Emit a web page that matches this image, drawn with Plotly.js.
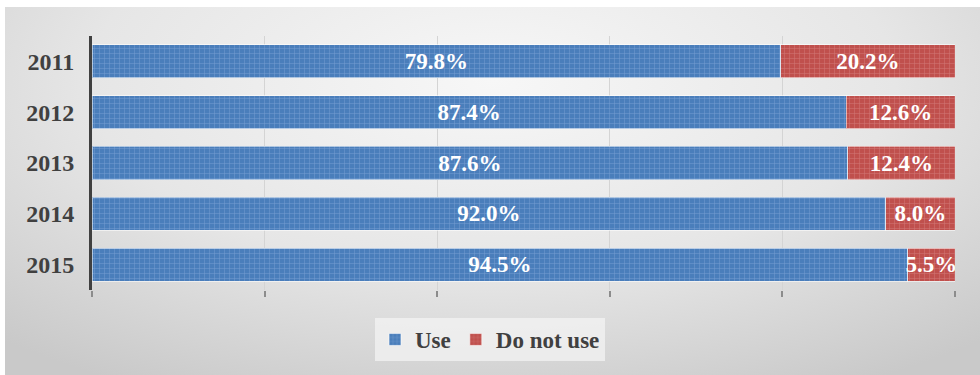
<!DOCTYPE html>
<html>
<head>
<meta charset="utf-8">
<script src="https://cdn.plot.ly/plotly-3.0.1.min.js"></script>
<style>
  html, body { margin: 0; padding: 0; background: #ffffff; }
  #bg {
    position: absolute; left: 5px; top: 7px; width: 975px; height: 368px;
    background: radial-gradient(ellipse 75% 95% at 50% 20%, #f7f7f7 0%, #e6e6e6 55%, #c9c9c9 100%);
  }
  #chart { position: absolute; left: 0; top: 0; width: 980px; height: 375px; }
</style>
</head>
<body>
<div id="bg"></div>
<div id="chart"></div>
<script>
const years = ['2011', '2012', '2013', '2014', '2015'];
const useValues = [79.8, 87.4, 87.6, 92.0, 94.5];
const notUseValues = [20.2, 12.6, 12.4, 8.0, 5.5];
const seriesNames = ['Use', 'Do not use'];
const xTickVals = [0, 20, 40, 60, 80, 100];

const serif = '"Liberation Serif", "Times New Roman", Times, serif';
const labelFont = { family: serif, size: 23, color: '#ffffff', weight: 'bold' };

function barTrace(name, vals, color, fg) {
  return {
    type: 'bar', orientation: 'h', name: name,
    y: years, x: vals,
    text: vals.map(v => v.toFixed(1) + '%'),
    textposition: 'inside', insidetextanchor: 'middle', constraintext: 'none',
    textfont: labelFont,
    marker: {
      color: color,
      line: { color: 'rgba(255,255,255,0.55)', width: 1 },
      pattern: { shape: '+', size: 5, solidity: 0.2, fillmode: 'replace', bgcolor: color, fgcolor: fg, fgopacity: 0.6 }
    },
    hoverinfo: 'skip'
  };
}

const data = [
  barTrace(seriesNames[0], useValues, '#4a7ebb', '#8fb0dc'),
  barTrace(seriesNames[1], notUseValues, '#c0504d', '#dc8e8c')
];

const layout = {
  width: 980, height: 375,
  paper_bgcolor: 'rgba(0,0,0,0)', plot_bgcolor: 'rgba(0,0,0,0)',
  margin: { l: 92, r: 25, t: 36, b: 85 },
  barmode: 'stack', bargap: 0.35,
  font: { family: serif, color: '#404040' },
  xaxis: {
    range: [0, 100], tickvals: xTickVals, showticklabels: false,
    showgrid: true, gridcolor: '#d4d4d4', gridwidth: 1,
    ticks: 'outside', ticklen: 6, tickcolor: '#8c8c8c', tickwidth: 2,
    zeroline: false, showline: false, fixedrange: true
  },
  yaxis: {
    autorange: 'reversed', showline: true, linecolor: '#404040', linewidth: 3,
    ticks: '', ticklabelstandoff: 10,
    tickfont: { family: serif, size: 24, color: '#404040', weight: 'bold' },
    showgrid: false, zeroline: false, fixedrange: true
  },
  showlegend: true,
  legend: {
    orientation: 'h', x: 0.5, xanchor: 'center', xref: 'container',
    y: 0.152, yanchor: 'top', yref: 'container',
    bgcolor: 'rgba(245,245,245,0.7)', borderwidth: 0,
    font: { family: serif, size: 23, color: '#404040', weight: 'bold' },
    itemwidth: 30, traceorder: 'normal'
  }
};

Plotly.newPlot('chart', data, layout, { displayModeBar: false, staticPlot: true });
</script>
</body>
</html>
